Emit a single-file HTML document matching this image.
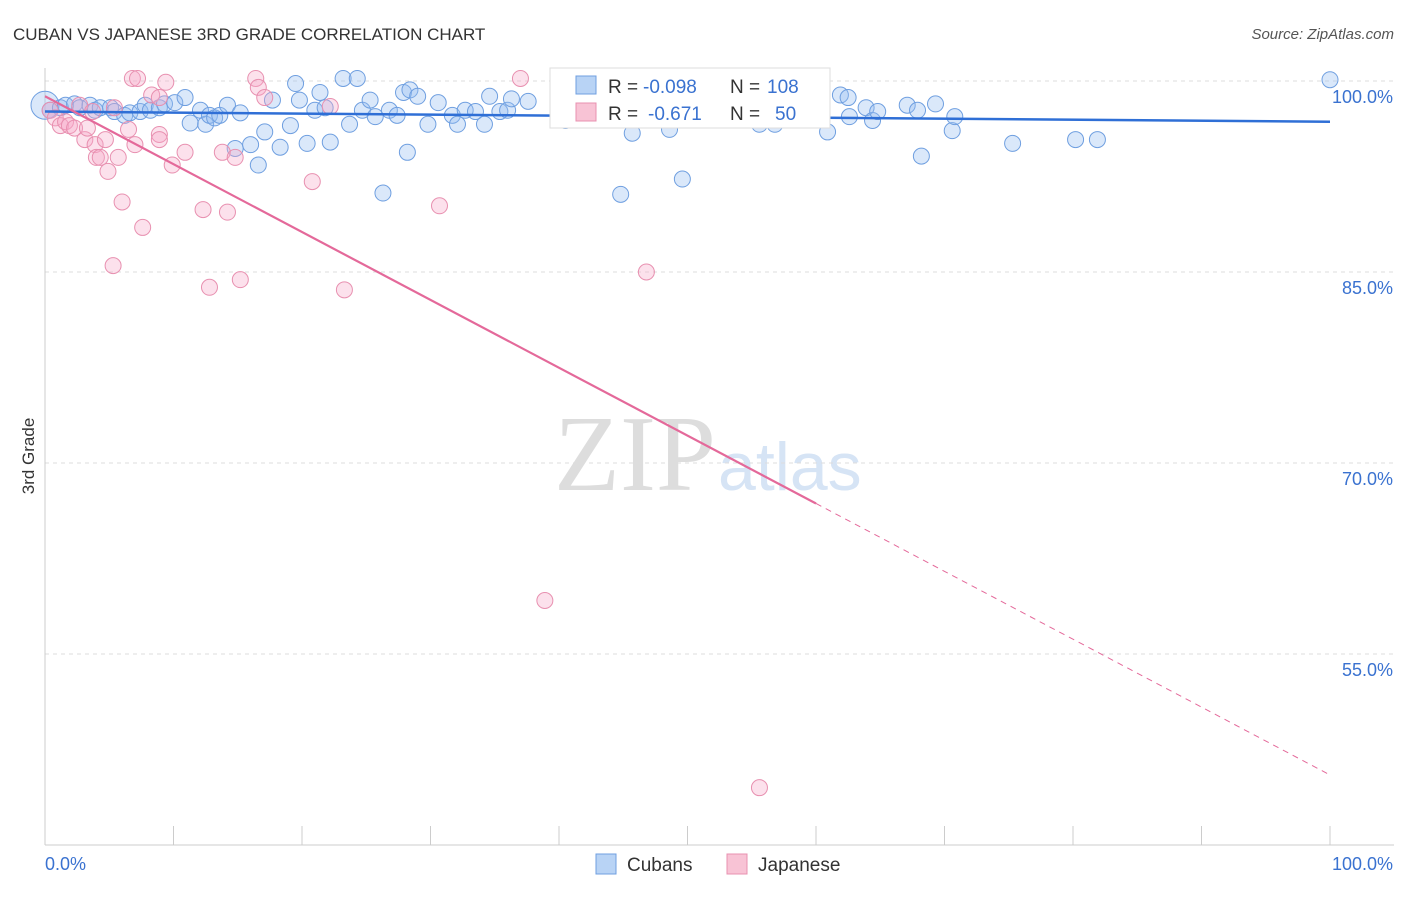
<!DOCTYPE html>
<html><head><meta charset="utf-8">
<style>
body{margin:0;background:#fff;font-family:"Liberation Sans",sans-serif}
#c{position:relative;width:1406px;height:892px}
</style></head>
<body>
<div id="c">
<svg id="svg" width="1406" height="892" xmlns="http://www.w3.org/2000/svg">
<text x="13" y="40" font-size="17" fill="#333">CUBAN VS JAPANESE 3RD GRADE CORRELATION CHART</text>
<text x="1394" y="39" font-size="15" fill="#555" text-anchor="end" font-style="italic">Source: ZipAtlas.com</text>
<text x="716" y="490" font-size="108" fill="#ddd" text-anchor="end" font-family="Liberation Serif">ZIP</text>
<text x="718" y="490" font-size="68" fill="#d6e4f5">atlas</text>
<text x="34" y="456" font-size="17" fill="#333" text-anchor="middle" transform="rotate(-90 34 456)">3rd Grade</text>
<g id="grid"></g><g id="axes"></g><g id="pts"></g><g id="lines"></g>
<g>
<rect x="550" y="68" width="280" height="60" fill="#fff" stroke="#ddd"/>
<rect x="576" y="76" width="20" height="18" fill="#b8d3f5" stroke="#6f9fe0"/>
<text x="608" y="93" font-size="19" fill="#333">R =</text>
<text x="643" y="93" font-size="19" fill="#3a72d0">-0.098</text>
<text x="730" y="93" font-size="19" fill="#333">N =</text>
<text x="767" y="93" font-size="19" fill="#3a72d0">108</text>
<rect x="576" y="103" width="20" height="18" fill="#f8c3d5" stroke="#e890b0"/>
<text x="608" y="120" font-size="19" fill="#333">R =</text>
<text x="648" y="120" font-size="19" fill="#3a72d0">-0.671</text>
<text x="730" y="120" font-size="19" fill="#333">N =</text>
<text x="775" y="120" font-size="19" fill="#3a72d0">50</text>
</g>
<g>
<rect x="596" y="854" width="20" height="20" fill="#b8d3f5" stroke="#6f9fe0"/>
<text x="627" y="871" font-size="19" fill="#333">Cubans</text>
<rect x="727" y="854" width="20" height="20" fill="#f8c3d5" stroke="#e890b0"/>
<text x="758" y="871" font-size="19" fill="#333">Japanese</text>
</g>
</svg>
</div>
<script>
const yTicks=[100,85,70,55];
const yTickLabels=["100.0%","85.0%","70.0%","55.0%"];
const xTickLabels=["0.0%","100.0%"];
const cubanX=[0,0.4,1.2,1.6,2.3,2.7,3.5,3.9,4.3,5.1,5.4,6.2,6.6,7.4,7.8,8.2,8.9,9.3,10.1,10.9,11.3,12.1,12.5,12.8,13.2,13.6,14.2,14.8,15.2,16.0,16.6,17.1,17.7,18.3,19.1,19.5,19.8,20.4,21.0,21.4,21.8,22.2,23.2,23.7,24.3,24.7,25.3,25.7,26.3,26.8,27.4,27.9,28.2,28.4,29.0,29.8,30.6,31.7,32.1,32.7,33.5,34.2,34.6,35.4,36.0,36.3,37.6,40.5,43.2,44.8,45.7,47.1,48.6,49.6,50.2,51.8,52.2,54.2,55.6,56.8,60.9,61.9,62.5,62.6,63.9,64.4,64.8,67.1,67.9,68.2,69.3,70.6,70.8,75.3,80.2,81.9,100];
const cubanY=[98.1,97.7,97.9,98.1,98.2,97.9,98.1,97.7,97.9,97.9,97.6,97.3,97.5,97.6,98.1,97.7,97.9,98.2,98.3,98.7,96.7,97.7,96.6,97.3,97.1,97.3,98.1,94.7,97.5,95.0,93.4,96.0,98.5,94.8,96.5,99.8,98.5,95.1,97.7,99.1,97.9,95.2,100.2,96.6,100.2,97.7,98.5,97.2,91.2,97.7,97.3,99.1,94.4,99.3,98.8,96.6,98.3,97.3,96.6,97.7,97.6,96.6,98.8,97.6,97.7,98.6,98.4,96.9,97.3,91.1,95.9,98.3,96.2,92.3,97.5,97.7,98.4,97.7,96.6,96.6,96.0,98.9,98.7,97.2,97.9,96.9,97.6,98.1,97.7,94.1,98.2,96.1,97.2,95.1,95.4,95.4,100.1];
const japX=[0.4,0.8,1.2,1.6,1.9,2.3,2.7,3.1,3.3,3.9,4.0,4.3,4.7,4.9,5.4,5.7,6.0,6.5,6.8,7.2,7.0,7.6,8.3,8.9,8.9,9.4,9.9,10.9,12.3,12.8,13.8,14.2,14.8,15.2,16.4,16.6,17.1,20.8,22.2,23.3,30.7,37.0,38.9,46.8,55.6,5.3,3.7,8.9];
const japY=[97.7,97.1,96.5,96.8,96.5,96.3,98.1,95.4,96.3,95.0,94.0,94.0,95.4,92.9,97.9,94.0,90.5,96.2,100.2,100.2,95.0,88.5,98.9,95.8,95.4,99.9,93.4,94.4,89.9,83.8,94.4,89.7,94.0,84.4,100.2,99.5,98.7,92.1,98.0,83.6,90.2,100.2,59.2,85.0,44.5,85.5,97.6,98.7];
const cubanFit=[97.6,96.8];
const japFit=[98.8,45.5];
const japSolidEnd=60;
const NS="http://www.w3.org/2000/svg";
const X=v=>45+v*12.85, Y=v=>81+(100-v)*12.733;
function mk(t,a,p){const e=document.createElementNS(NS,t);for(const k in a)e.setAttribute(k,a[k]);document.getElementById(p).appendChild(e);return e;}
yTicks.forEach((t,i)=>{
 const l=mk('line',{x1:45,x2:1394,y1:Y(t),y2:Y(t),stroke:'#ddd','stroke-dasharray':'4,4'},'grid');
 
 
 const tx=mk('text',{x:1393,y:Y(t)+22,'font-size':18,fill:'#3a72d0','text-anchor':'end'},'grid');
 tx.textContent=yTickLabels[i];
 
 
});
let ax=mk('line',{x1:45,x2:45,y1:68,y2:845,stroke:'#ccc'},'axes');


ax=mk('line',{x1:45,x2:1394,y1:845,y2:845,stroke:'#ccc'},'axes');


for(let i=0;i<=10;i++){
 const t=mk('line',{x1:X(i*10),x2:X(i*10),y1:826,y2:845,stroke:'#ccc'},'axes');
 
 
}
[[0,'start',45],[100,'end',1393]].forEach((d,i)=>{
 const t=mk('text',{x:d[2],y:870,'font-size':18,fill:'#3a72d0','text-anchor':d[1]},'axes');
 t.textContent=xTickLabels[i];
 
 
});
cubanX.forEach((x,i)=>{
 const c=mk('circle',{cx:X(x),cy:Y(cubanY[i]),r:i==0?14:8,fill:'rgba(150,190,240,0.35)',stroke:'#6f9fe0','stroke-width':1},'pts');
 
 
});
japX.forEach((x,i)=>{
 const c=mk('circle',{cx:X(x),cy:Y(japY[i]),r:8,fill:'rgba(245,170,200,0.35)',stroke:'#e890b0','stroke-width':1},'pts');
 
 
});
let l=mk('line',{x1:X(0),y1:Y(cubanFit[0]),x2:X(100),y2:Y(cubanFit[1]),stroke:'#2f6fd6','stroke-width':2.5},'lines');


const jm=japFit[0]+(japFit[1]-japFit[0])*japSolidEnd/100;
l=mk('line',{x1:X(0),y1:Y(japFit[0]),x2:X(japSolidEnd),y2:Y(jm),stroke:'#e4699a','stroke-width':2.2},'lines');


l=mk('line',{x1:X(japSolidEnd),y1:Y(jm),x2:X(100),y2:Y(japFit[1]),stroke:'#e4699a','stroke-width':1,'stroke-dasharray':'6,5'},'lines');


</script>
</body></html>
